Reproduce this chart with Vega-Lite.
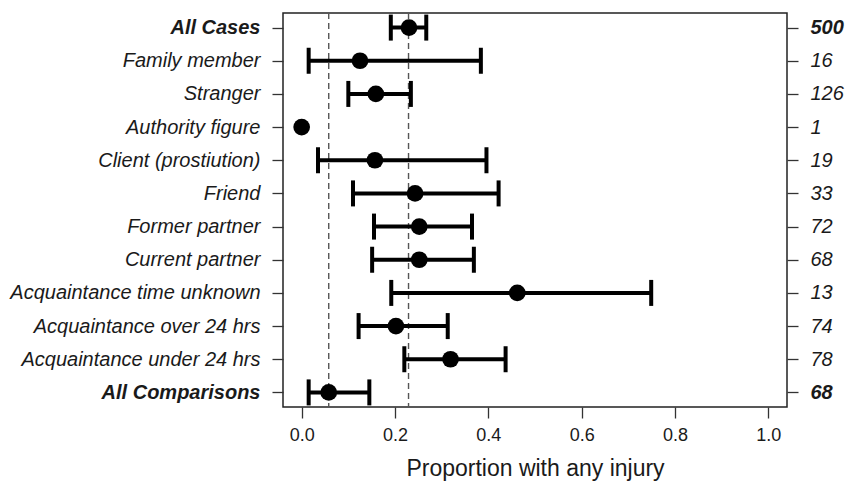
{
  "$schema": "https://vega.github.io/schema/vega-lite/v6.json",
  "width": 504,
  "height": 394,
  "autosize": "none",
  "padding": {"left": 283, "top": 13, "right": 58, "bottom": 74},
  "background": "white",
  "config": {
    "view": {"stroke": "#222222", "strokeWidth": 1.5},
    "font": "Liberation Sans",
    "mark": {"invalid": "break-paths-show-domains"},
    "axis": {"grid": false, "domain": false, "tickColor": "#333333", "tickWidth": 1.3, "tickSize": 11, "labelColor": "#1a1a1a", "titleColor": "#1a1a1a", "labelLimit": 0}
  },
  "datasets": {
    "est": [
      {"label": "All Cases", "n": 500, "nlab": "500", "pt": 0.23, "lo": 0.191, "hi": 0.267},
      {"label": "Family member", "n": 16, "nlab": "16", "pt": 0.125, "lo": 0.015, "hi": 0.384},
      {"label": "Stranger", "n": 126, "nlab": "126", "pt": 0.159, "lo": 0.100, "hi": 0.234},
      {"label": "Authority figure", "n": 1, "nlab": "1", "pt": 0.0, "lo": null, "hi": null},
      {"label": "Client (prostiution)", "n": 19, "nlab": "19", "pt": 0.157, "lo": 0.035, "hi": 0.396},
      {"label": "Friend", "n": 33, "nlab": "33", "pt": 0.243, "lo": 0.110, "hi": 0.422},
      {"label": "Former partner", "n": 72, "nlab": "72", "pt": 0.252, "lo": 0.155, "hi": 0.365},
      {"label": "Current partner", "n": 68, "nlab": "68", "pt": 0.252, "lo": 0.151, "hi": 0.369},
      {"label": "Acquaintance time unknown", "n": 13, "nlab": "13", "pt": 0.462, "lo": 0.192, "hi": 0.749},
      {"label": "Acquaintance over 24 hrs", "n": 74, "nlab": "74", "pt": 0.202, "lo": 0.122, "hi": 0.313},
      {"label": "Acquaintance under 24 hrs", "n": 78, "nlab": "78", "pt": 0.319, "lo": 0.220, "hi": 0.437},
      {"label": "All Comparisons", "n": 68, "nlab": "68 ", "pt": 0.058, "lo": 0.015, "hi": 0.145}
    ],
    "ref": [{"x": 0.058}, {"x": 0.229}]
  },
  "layer": [
    {
      "data": {"name": "est"},
      "encoding": {
        "y": {
          "field": "label", "type": "nominal", "sort": null,
          "scale": {"type": "point", "padding": 0.44},
          "axis": {
            "orient": "left", "title": null, "labelFontSize": 20, "labelFontStyle": "italic", "labelPadding": 12,
            "labelFontWeight": {"condition": {"test": "datum.value == 'All Cases' || datum.value == 'All Comparisons'", "value": "bold"}, "value": "normal"}
          }
        }
      },
      "layer": [
        {
          "data": {"name": "ref"},
          "mark": {"type": "rule", "color": "#555555", "strokeWidth": 1.4, "strokeDash": [6, 4]},
          "encoding": {
            "y": null,
            "x": {"field": "x", "type": "quantitative"}
          }
        },
        {
          "mark": {"type": "rule", "color": "black", "strokeWidth": 4},
          "encoding": {
            "x": {"field": "lo", "type": "quantitative"},
            "x2": {"field": "hi"}
          }
        },
        {
          "mark": {"type": "tick", "color": "black", "opacity": 1, "thickness": 4, "size": 26, "orient": "vertical"},
          "encoding": {"x": {"field": "lo", "type": "quantitative"}}
        },
        {
          "mark": {"type": "tick", "color": "black", "opacity": 1, "thickness": 4, "size": 26, "orient": "vertical"},
          "encoding": {"x": {"field": "hi", "type": "quantitative"}}
        },
        {
          "mark": {"type": "point", "filled": true, "shape": "circle", "color": "black", "size": 280, "opacity": 1},
          "encoding": {
            "x": {
              "field": "pt", "type": "quantitative",
              "scale": {"domain": [-0.04, 1.04], "nice": false, "zero": false},
              "axis": {
                "orient": "bottom", "values": [0, 0.2, 0.4, 0.6, 0.8, 1.0], "format": ".1f",
                "labelFontSize": 18, "labelPadding": 8, "title": "Proportion with any injury",
                "titleFontSize": 23, "titleFontWeight": "normal", "titlePadding": 13
              }
            }
          }
        }
      ]
    },
    {
      "data": {"name": "est"},
      "mark": {"type": "point", "opacity": 0},
      "encoding": {
        "x": {"field": "pt", "type": "quantitative"},
        "y": {
          "field": "nlab", "type": "nominal", "sort": null,
          "scale": {"type": "point", "padding": 0.44},
          "axis": {
            "orient": "right", "title": null, "labelFontSize": 20, "labelFontStyle": "italic", "labelPadding": 12,
            "labelFontWeight": {"condition": {"test": "datum.value == '500' || datum.value == '68 '", "value": "bold"}, "value": "normal"}
          }
        }
      }
    }
  ],
  "resolve": {"scale": {"y": "independent"}}
}
